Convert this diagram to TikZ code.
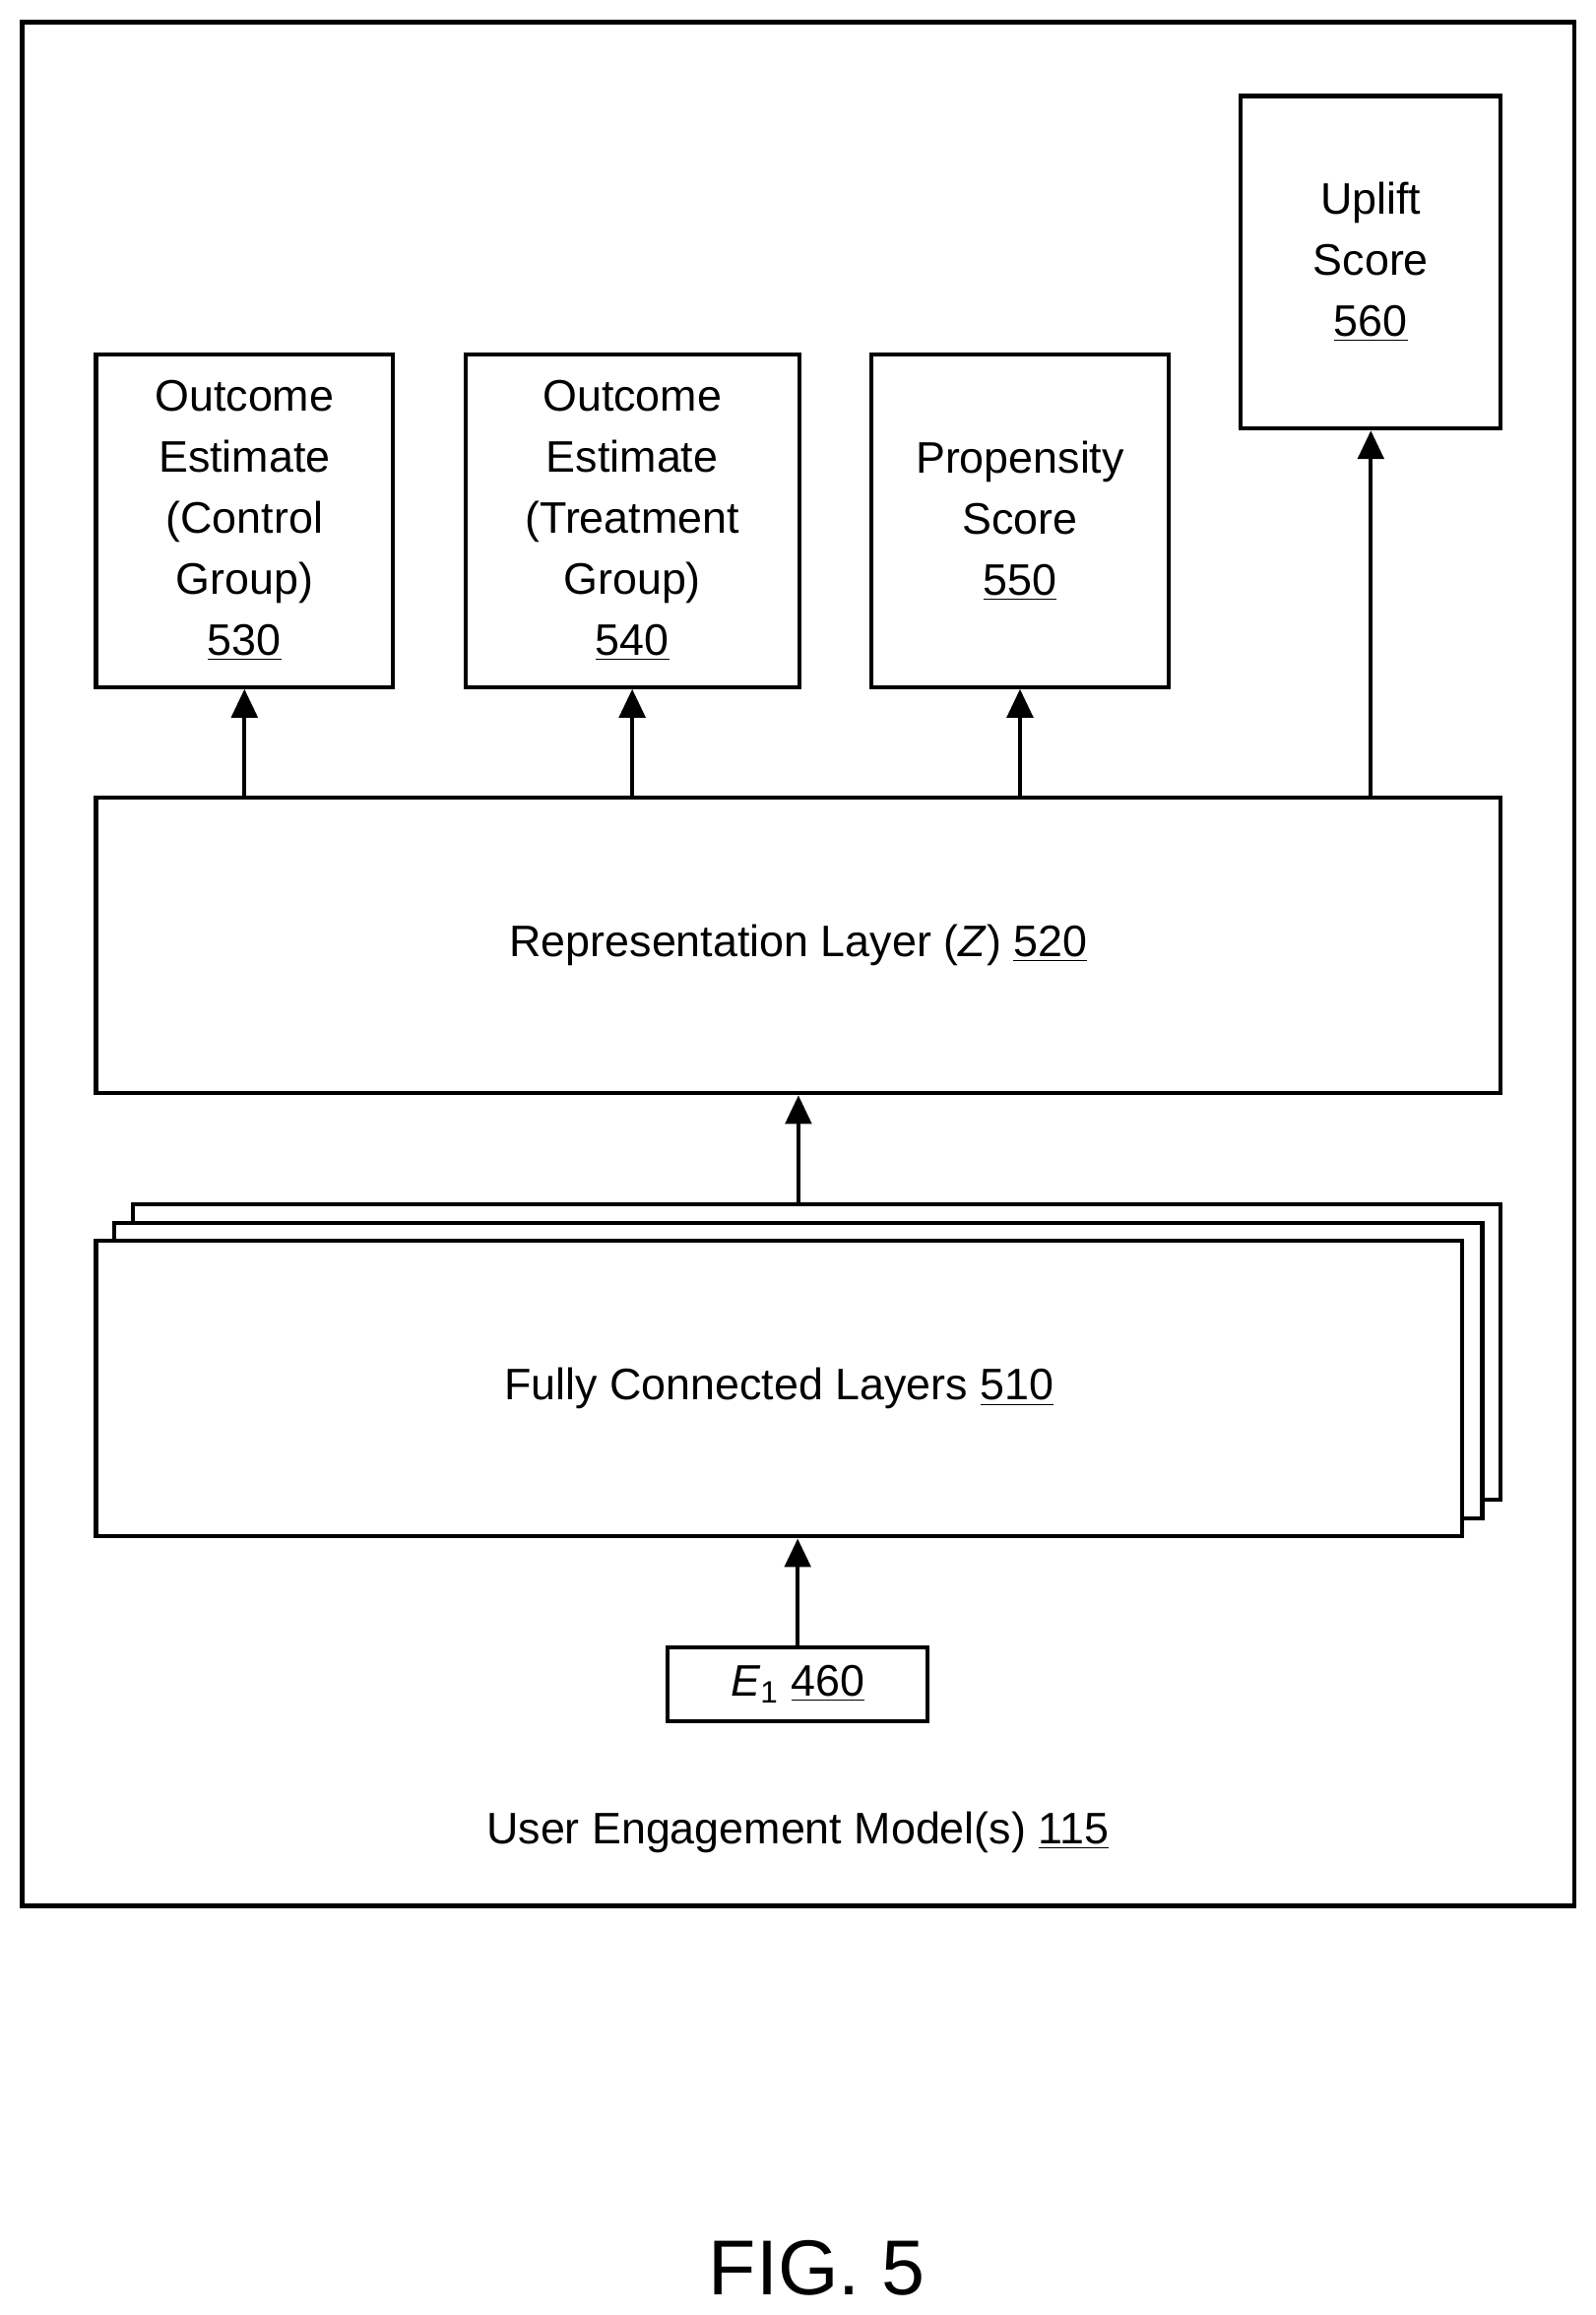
\documentclass[tikz,border=0pt]{standalone}
\usepackage{fontspec}
\setmainfont{Liberation Sans}
\usetikzlibrary{arrows.meta,positioning}
\tikzset{
  blk/.style={draw, line width=1.6pt, fill=white, align=center, inner sep=0pt, font=\fontsize{17}{23.5}\selectfont},
  flow/.style={-{Triangle[length=11pt,width=10pt]}, line width=1.6pt}
}
\begin{document}
\begin{tikzpicture}[x=0.02cm,y=-0.02cm]
  \useasboundingbox (0,0) rectangle (1080,1567);
  % outer frame
  \node[blk, minimum width=1051*0.02cm, minimum height=1275*0.02cm] (frame) at (540.5,652.5) {};
  \node[font=\fontsize{17}{20}\selectfont] (uem) at (540,1240) {User Engagement Model(s) \underline{115}};

  % output boxes
  \node[blk, minimum width=201*0.02cm, minimum height=225*0.02cm] (oc) at (165.5,352.5) {Outcome\\Estimate\\(Control\\Group)\\\underline{530}};
  \node[blk, minimum width=226*0.02cm, minimum height=225*0.02cm] (ot) at (428,352.5) {Outcome\\Estimate\\(Treatment\\Group)\\\underline{540}};
  \node[blk, minimum width=201*0.02cm, minimum height=225*0.02cm] (ps) at (690.5,352.5) {Propensity\\Score\\\underline{550}};
  \node[blk, minimum width=176*0.02cm, minimum height=225*0.02cm] (us) at (928,177.5) {Uplift\\Score\\\underline{560}};

  % representation layer
  \node[blk, minimum width=951*0.02cm, minimum height=200*0.02cm] (rep) at (540.5,640) {Representation Layer (\textit{Z}) \underline{520}};

  % fully connected layers (stacked)
  \node[blk, minimum width=926*0.02cm, minimum height=200*0.02cm] (fc3) at (553,915) {};
  \node[blk, minimum width=926*0.02cm, minimum height=200*0.02cm] (fc2) at (540.5,928) {};
  \node[blk, minimum width=925*0.02cm, minimum height=200*0.02cm] (fc) at (527.5,940) {Fully Connected Layers \underline{510}};

  % input
  \node[blk, minimum width=176*0.02cm, minimum height=50*0.02cm] (e1) at (540,1140) {\textit{E}\textsubscript{1} \underline{460}};

  \node[font=\fontsize{30}{34}\selectfont] (fig) at (553,1535) {FIG. 5};

  \draw[flow] (rep.north -| oc) -- (oc.south);
  \draw[flow] (rep.north -| ot) -- (ot.south);
  \draw[flow] (rep.north -| ps) -- (ps.south);
  \draw[flow] (rep.north -| us) -- (us.south);
  \draw[flow] (fc3.north -| rep) -- (rep.south);
  \draw[flow] (e1.north) -- (e1.north |- fc.south);
\end{tikzpicture}
\end{document}
